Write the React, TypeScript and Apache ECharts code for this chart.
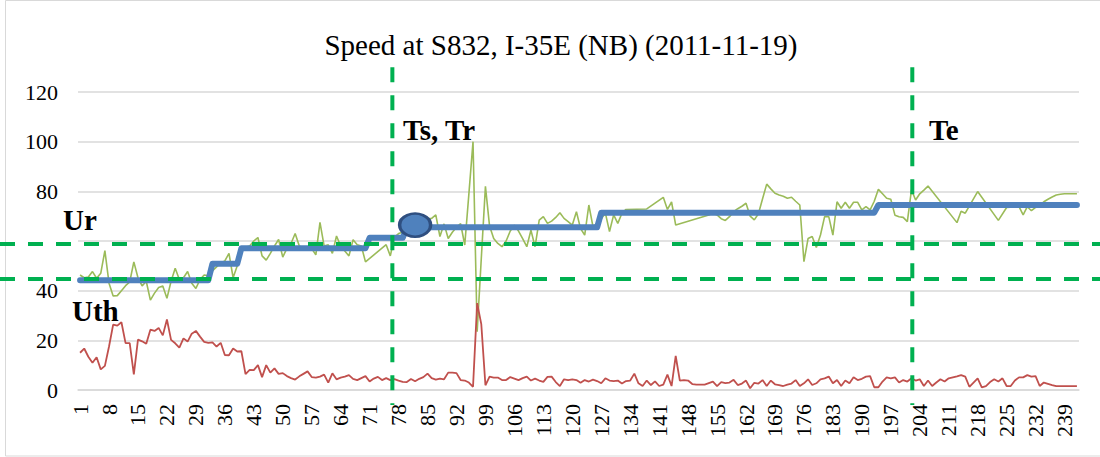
import React, { useEffect, useRef } from "react";
import * as echarts from "echarts";

const FONT = '"Liberation Serif", "Times New Roman", serif';

// categories 1..242 (time intervals)
const categories: string[] = Array.from({ length: 242 }, (_, i) => String(i + 1));

// green: speed
const speed: (number | null)[] = [
  46.3, 45.2, 45.5, 47.7, 45.0, 47.0, 56.1, 43.0, 37.9, 38.0,
  40.0, 42.0, 43.5, 51.6, 45.2, 41.9, 43.8, 36.2, 39.0, 41.3,
  41.9, 36.9, 43.8, 49.0, 44.5, 45.2, 47.7, 43.0, 40.9, 44.5,
  46.3, 46.0, 48.0, 49.6, 51.2, 52.0, 55.0, 45.2, 50.0, 57.0,
  57.5, 58.0, 60.0, 61.4, 54.0, 52.3, 55.0, 58.0, 60.6, 53.5,
  57.0, 59.0, 63.0, 58.0, 57.0, 57.0, 57.0, 54.4, 67.5, 58.0,
  58.5, 55.0, 62.0, 58.0, 56.0, 54.0, 60.5, 58.5, 58.0, 51.6,
  null, null, null, null, 58.5, 54.0, 61.5, 63.0, 63.5, 64.0,
  66.0, 68.0, 66.0, 67.0, 69.0, 69.1, 70.5, 61.8, 66.9, 61.0,
  63.5, 65.5, 67.0, 58.4, 79.0, 100.0, 23.5, 53.0, 82.0, 66.0,
  61.0, 59.0, 57.7, 60.0, 64.0, 66.4, 64.0, 61.0, 57.7, 64.4,
  57.7, 68.4, 69.8, 67.1, 68.0, 69.5, 71.4, 69.1, 67.8, 66.4,
  71.8, 65.0, 62.4, 74.5, 65.8, 67.1, 69.0, 71.2, 63.8, 70.5,
  67.1, 71.2, 72.7, null, null, null, null, 72.9, null, null,
  null, 77.6, 72.7, 75.7, 66.4, null, null, null, null, null,
  null, null, 70.5, 71.2, 70.5, 69.0, 68.3, 69.8, 71.8, 73.0,
  74.0, 75.2, 70.0, 68.5, 71.0, 77.0, 82.9, 81.0, 79.2, 78.5,
  78.0, 77.2, 77.6, 76.0, 74.5, 51.7, 61.0, 61.8, 57.4, 62.4,
  69.8, 69.8, 62.4, 75.8, 73.2, 75.6, 73.2, 75.6, 75.6, 72.5,
  73.8, 72.5, 76.0, 80.8, 79.0, 77.2, 76.8, 70.4, 69.8, 69.5,
  67.8, 80.6, 76.5, 79.0, 80.5, 82.1, null, null, null, null,
  null, null, 67.4, 72.0, 71.2, null, null, 79.9, null, null,
  null, null, 68.3, null, 73.5, null, null, 73.8, 70.5, 73.8,
  72.2, 73.5, 74.5, 75.8, 76.8, 77.7, 78.5, 78.8, 79.0, 79.0,
  79.0, 79.0,
];

// red: speed deviation
const deviation: number[] = [
  15.0, 16.7, 13.4, 11.0, 13.2, 8.3, 9.7, 17.5, 26.3, 25.9,
  27.3, 18.9, 18.9, 6.3, 20.3, 19.6, 18.6, 24.3, 23.8, 25.0,
  22.0, 28.4, 20.2, 18.8, 17.1, 20.8, 19.5, 22.7, 23.8, 21.5,
  19.4, 19.0, 19.2, 17.5, 19.0, 14.1, 14.0, 16.7, 15.5, 15.6,
  6.4, 8.1, 8.0, 10.0, 5.2, 10.0, 7.0, 8.7, 6.5, 6.8,
  5.6, 4.8, 4.2, 5.5, 6.5, 7.5, 5.2, 5.0, 5.4, 6.2,
  3.0, 6.7, 4.3, 5.0, 5.4, 6.0, 4.5, 4.0, 4.8, 5.6,
  3.4, 4.6, 5.3, 4.0, 4.8, 4.0, 4.4, 3.8, 3.3, 3.2,
  4.4, 3.5, 4.5, 5.2, 6.6, 4.8, 4.2, 4.6, 4.3, 7.0,
  7.0, 6.8, 4.0, 3.8, 3.0, 1.3, 35.0, 26.5, 1.9, 5.4,
  5.0, 5.0, 4.0, 4.0, 5.2, 4.6, 4.0, 4.8, 5.4, 3.8,
  4.6, 3.8, 3.3, 5.3, 5.4, 3.2, 1.6, 4.3, 4.0, 4.3,
  4.0, 2.9, 4.0, 3.4, 4.2, 3.6, 2.7, 4.7, 3.8, 3.6,
  3.8, 2.6, 3.6, 3.8, 6.6, 2.7, 1.6, 3.8, 2.0, 3.5,
  1.6, 2.2, 6.2, 1.6, 13.7, 3.8, 4.0, 3.8, 2.4, 2.2,
  2.2, 2.2, 2.8, 3.4, 1.6, 3.2, 2.8, 3.0, 4.1, 2.0,
  2.6, 3.8, 0.7, 2.9, 2.6, 4.0, 1.6, 3.8, 2.3, 2.0,
  1.6, 2.2, 2.6, 4.0, 1.6, 2.7, 4.3, 2.0, 2.7, 4.3,
  4.7, 5.4, 2.7, 4.0, 1.6, 3.8, 2.7, 5.1, 4.0, 4.5,
  5.4, 5.6, 1.1, 1.1, 3.4, 5.1, 4.7, 5.1, 3.0, 4.0,
  3.4, 4.7, 3.8, 4.3, 1.6, 3.8, 1.6, 3.0, 4.3, 3.4,
  4.7, 5.1, 5.5, 6.0, 5.4, 1.3, 3.0, 4.7, 1.1, 1.6,
  3.2, 4.3, 3.4, 4.7, 1.6, 1.6, 3.8, 5.1, 5.1, 6.0,
  5.4, 5.6, 1.6, 3.0, 2.5, 2.0, 1.6, 1.6, 1.6, 1.6,
  1.6, 1.6,
];

// blue: step-wise reference speed (level, number of intervals)
const stepLevels: number[] = [44.2, 50.8, 57.1, 61.3, 65.5, 71.4, 74.5];
const stepLengths: number[] = [32, 7, 31, 9, 47, 67, 49];
const stepSeries: number[] = stepLevels.flatMap((lv, k) => Array(stepLengths[k]).fill(lv));

const yTicks = { min: 0, max: 120, interval: 20 };

// annotations
const UR_VALUE = 58.8;
const UTH_VALUE = 44.7;
const TS_INDEX = 75.5; // category position (0-based, fractional)
const TE_INDEX = 201.2;
const CIRCLE_INDEX = 81;
const CIRCLE_VALUE = 66.4;

export default function App() {
  const ref = useRef<HTMLDivElement>(null);

  useEffect(() => {
    if (!ref.current) return;
    const chart = echarts.init(ref.current, undefined, { renderer: "svg" });

    const option: any = {
      animation: false,
      backgroundColor: "#ffffff",
      title: {
        text: "Speed at S832, I-35E (NB) (2011-11-19)",
        left: 556,
        textAlign: "center",
        top: 25,
        textStyle: { fontFamily: FONT, fontSize: 29, fontWeight: "normal", color: "#000" },
      },
      grid: { left: 78, right: 21, top: 92, bottom: 67 },
      xAxis: {
        type: "category",
        data: categories,
        boundaryGap: true,
        axisLine: { lineStyle: { color: "#D9D9D9", width: 1.5 } },
        axisTick: { show: false },
        axisLabel: {
          interval: 6,
          rotate: 90,
          margin: 14,
          fontFamily: FONT,
          fontSize: 22,
          color: "#000",
        },
        splitLine: { show: false },
      },
      yAxis: {
        type: "value",
        min: yTicks.min,
        max: yTicks.max,
        interval: yTicks.interval,
        axisLine: { show: false },
        axisTick: { show: false },
        axisLabel: {
          margin: 20,
          fontFamily: FONT,
          fontSize: 22,
          color: "#000",
          formatter: (v: number) => (v === 60 ? "" : String(v)),
        },
        splitLine: { lineStyle: { color: "#D9D9D9", width: 1.5 } },
      },
      series: [
        {
          name: "Speed",
          type: "line",
          data: speed,
          connectNulls: true,
          showSymbol: false,
          lineStyle: { color: "#9BBB59", width: 1.6 },
          z: 2,
        },
        {
          name: "Deviation",
          type: "line",
          data: deviation,
          showSymbol: false,
          lineStyle: { color: "#C0504D", width: 1.8 },
          z: 2,
        },
        {
          name: "Step",
          type: "line",
          data: stepSeries,
          showSymbol: false,
          lineStyle: { color: "#4F81BD", width: 6, cap: "round", join: "round" },
          z: 3,
          markPoint: {
            symbol: "circle",
            symbolSize: [31, 23],
            label: { show: false },
            itemStyle: { color: "#4F81BD", borderColor: "#2F4F80", borderWidth: 3 },
            data: [{ coord: [CIRCLE_INDEX, CIRCLE_VALUE] }],
            z: 5,
          },
        },
      ],
    };

    chart.setOption(option);

    const px = (idx: number) => {
      const a = Math.floor(idx);
      const f = idx - a;
      const p0 = chart.convertToPixel({ xAxisIndex: 0 } as any, a) as unknown as number;
      const p1 = chart.convertToPixel({ xAxisIndex: 0 } as any, a + 1) as unknown as number;
      return p0 + f * (p1 - p0);
    };
    const py = (v: number) => chart.convertToPixel({ yAxisIndex: 0 } as any, v) as unknown as number;

    const dashStyle = { stroke: "#00B050", lineWidth: 4, lineDash: [15, 13] };
    const yUr = py(UR_VALUE);
    const yUth = py(UTH_VALUE);
    const xTs = px(TS_INDEX);
    const xTe = px(TE_INDEX);
    const yTop = py(130);
    const yBot = py(-6);

    const labelFont = { fontFamily: FONT, fontSize: 29, fontWeight: "bold", fill: "#000" };

    chart.setOption({
      graphic: [
        {
          type: "rect",
          shape: { x: 5.5, y: 0.5, width: 1100, height: 455.5 },
          style: { fill: "none", stroke: "#D9D9D9", lineWidth: 1 },
          silent: true,
          z: 0,
        },
        { type: "line", shape: { x1: 0, y1: yUr, x2: 1100, y2: yUr }, style: dashStyle, z: 10 },
        { type: "line", shape: { x1: 0, y1: yUth, x2: 1100, y2: yUth }, style: dashStyle, z: 10 },
        { type: "line", shape: { x1: xTs, y1: yTop, x2: xTs, y2: yBot }, style: dashStyle, z: 10 },
        { type: "line", shape: { x1: xTe, y1: yTop, x2: xTe, y2: yBot }, style: dashStyle, z: 10 },
        { type: "text", x: 63, y: 220, style: { ...labelFont, text: "Ur", verticalAlign: "middle" }, z: 11 },
        { type: "text", x: 72, y: 311, style: { ...labelFont, text: "Uth", verticalAlign: "middle" }, z: 11 },
        { type: "text", x: 403, y: 130, style: { ...labelFont, text: "Ts, Tr", verticalAlign: "middle" }, z: 11 },
        { type: "text", x: 929, y: 130, style: { ...labelFont, text: "Te", verticalAlign: "middle" }, z: 11 },
      ],
    });

    return () => chart.dispose();
  }, []);

  return (
    <div
      ref={ref}
      style={{ position: "absolute", left: 0, top: 0, width: 1100, height: 457 }}
    />
  );
}
